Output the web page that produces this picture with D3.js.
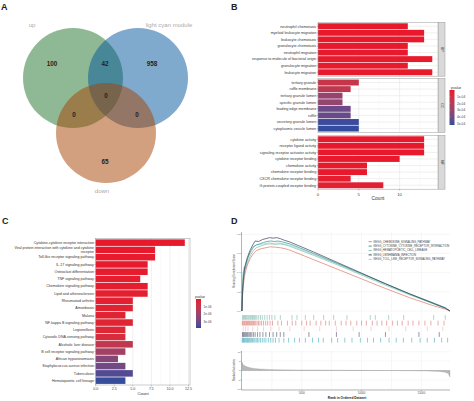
<!DOCTYPE html>
<html><head><meta charset="utf-8">
<script src="https://cdn.jsdelivr.net/npm/d3@7"></script>
<style>body{margin:0;background:#fff}svg{display:block}text{font-family:"Liberation Sans",Arial,Helvetica,sans-serif}</style>
</head><body><svg id="c" width="474" height="401"></svg>
<script>
// ---------------- DATA ----------------
const vennSetNames = ["up", "light cyan module", "down"];
const vennRegionCounts = [100, 42, 958, 0, 0, 0, 65]; // up only, up&cyan, cyan only, all, up&down, cyan&down, down only

const bpTerms = ["neutrophil chemotaxis","myeloid leukocyte migration","leukocyte chemotaxis","granulocyte chemotaxis","neutrophil migration","response to molecule of bacterial origin","granulocyte migration","leukocyte migration"];
const bpCounts = [11,13,13,11,11,14,11,14];
const bpP = [2e-6,1e-6,1e-6,3e-6,3e-6,5e-6,4e-6,2e-6];
const ccTerms = ["tertiary granule","ruffle membrane","tertiary granule lumen","specific granule lumen","leading edge membrane","ruffle","secretory granule lumen","cytoplasmic vesicle lumen"];
const ccCounts = [5,4,3,3,4,4,5,5];
const ccP = [1.2e-4,1.6e-4,2.9e-4,3.0e-4,4.1e-4,4.2e-4,5.0e-4,5.1e-4];
const mfTerms = ["cytokine activity","receptor ligand activity","signaling receptor activator activity","cytokine receptor binding","chemokine activity","chemokine receptor binding","CXCR chemokine receptor binding","G protein-coupled receptor binding"];
const mfCounts = [13,13,13,10,6,6,4,8];
const mfP = [1e-7,1e-7,1e-7,1e-6,2e-6,3e-6,1e-5,2e-5];
const goFacets = ["BP","CC","MF"];
const bLegendTicks = [1e-4,2e-4,3e-4,4e-4,5e-4];

const keggTerms = ["Cytokine-cytokine receptor interaction","Viral protein interaction with cytokine and cytokine|receptor","Toll-like receptor signaling pathway","IL-17 signaling pathway","Osteoclast differentiation","TNF signaling pathway","Chemokine signaling pathway","Lipid and atherosclerosis","Rheumatoid arthritis","Amoebiasis","Malaria","NF-kappa B signaling pathway","Legionellosis","Cytosolic DNA-sensing pathway","Alcoholic liver disease","B cell receptor signaling pathway","African trypanosomiasis","Staphylococcus aureus infection","Tuberculosis","Hematopoietic cell lineage"];
const keggCounts = [12,8,8,7,7,6,7,7,5,5,4,5,4,4,5,4,3,4,5,4];
const keggP = [1e-9,2e-8,3e-8,5e-8,6e-8,8e-8,1e-7,1.2e-7,1.5e-7,2e-7,2.2e-7,2.5e-7,3e-7,5e-7,1.1e-6,1.8e-6,2.5e-6,2.9e-6,3.4e-6,3.7e-6];
const cLegendTicks = [1e-6,2e-6,3e-6];
const keggTicks = [0,2.5,5,7.5,10,12.5];

const gseaNames = ["KEGG_CHEMOKINE_SIGNALING_PATHWAY","KEGG_CYTOKINE_CYTOKINE_RECEPTOR_INTERACTION","KEGG_HEMATOPOIETIC_CELL_LINEAGE","KEGG_LEISHMANIA_INFECTION","KEGG_TOLL_LIKE_RECEPTOR_SIGNALING_PATHWAY"];
const esChemokine = [[0,0],[40,0.15],[120,0.28],[250,0.39],[450,0.48],[700,0.55],[950,0.6],[1200,0.63],[1600,0.65],[2000,0.66],[2400,0.67],[2800,0.665],[3200,0.66],[3600,0.65],[4000,0.635],[6000,0.535],[8000,0.435],[10000,0.335],[12000,0.235],[14000,0.14],[16000,0.055],[17000,0.02],[17400,0]];
const esCytokine = [[0,0],[40,0.17],[120,0.32],[250,0.44],[450,0.54],[700,0.62],[950,0.67],[1200,0.69],[1500,0.7],[1800,0.715],[2100,0.725],[2400,0.73],[2700,0.725],[3000,0.73],[3400,0.72],[4000,0.7],[6000,0.6],[8000,0.495],[10000,0.39],[12000,0.285],[14000,0.18],[16000,0.085],[17000,0.035],[17400,0]];
const esHematopoietic = [[0,0],[40,0.22],[100,0.38],[180,0.46],[300,0.44],[450,0.5],[700,0.58],[950,0.63],[1200,0.66],[1600,0.68],[2000,0.695],[2400,0.7],[2800,0.695],[3200,0.7],[3600,0.69],[4000,0.675],[6000,0.58],[8000,0.48],[10000,0.375],[12000,0.27],[14000,0.17],[16000,0.075],[17000,0.03],[17400,0]];
const esLeishmania = [[0,0],[40,0.2],[120,0.36],[250,0.47],[450,0.56],[700,0.64],[950,0.7],[1100,0.73],[1400,0.725],[1700,0.745],[2000,0.755],[2300,0.765],[2600,0.76],[2900,0.765],[3200,0.755],[3500,0.74],[4000,0.72],[6000,0.615],[8000,0.505],[10000,0.395],[12000,0.285],[14000,0.18],[16000,0.08],[17000,0.03],[17400,0]];
const esToll = [[0,0],[40,0.24],[100,0.4],[200,0.45],[350,0.5],[550,0.57],[800,0.63],[1050,0.68],[1400,0.695],[1800,0.7],[2200,0.71],[2600,0.705],[3000,0.71],[3500,0.7],[4000,0.685],[6000,0.59],[8000,0.49],[10000,0.385],[12000,0.28],[14000,0.175],[16000,0.08],[17000,0.03],[17400,0]];
const hitsHematopoietic = [50,120,200,280,350,430,520,600,700,780,880,950,1050,1150,1250,1400,1550,1700,1900,2100,2300,2500,2750,3205,4180,4600,5300,6000,6830,7670,8780,10730,11150,12270,13525,16035,17000];
const hitsChemokine = [30,90,160,230,310,380,460,540,620,700,790,870,960,1050,1150,1260,1380,1500,1640,1800,1980,2150,2350,2550,3000,3300,3800,4200,4500,5000,5400,5700,6200,6600,7000,7300,7800,8300,8700,9100,9600,10000,10400,10900,11300,11700,12100,12600,13000,13400,13900,14300,14800,15300,15800,16400,16900];
const hitsToll = [100,300,500,900,1300,1800,2400,3100,4000,5200,6500,7900,9300,10800,12300,13700,15500,16800];
const hitsLeishmania = [40,110,180,260,340,420,500,600,700,820,950,1100,1300,1500,1750,2000,2300,2600,2900,3200,3500,5600,7900,9800,12000,14800,16500];
const hitsCytokine = [20,70,130,190,250,320,390,460,540,620,700,790,880,980,1080,1190,1300,1420,1550,1700,1850,2000,2200,2400,2600,2800,3100,3500,3900,4400,4800,5300,5900,6400,6800,7500,8000,8600,9200,9900,10500,11000,11600,12300,12900,13500,14200,14900,15500,16100,16700,17200];
const rankMetric = [[0,4.5],[50,3.6],[150,2.8],[300,2.2],[600,1.6],[1000,1.1],[1500,0.8],[2200,0.55],[3000,0.42],[4500,0.3],[6000,0.22],[8000,0.14],[10000,0.07],[12000,0.0],[14000,-0.1],[15500,-0.25],[16500,-0.5],[17000,-0.9],[17250,-1.6],[17400,-3.5]];
const rankTicks = [5000,10000,15000];
const esTicks = [0,0.2,0.4,0.6,0.8];
const metricTicks = [-10,-5,0,5,10];

// ---------------- DRAW ----------------
const svg = d3.select("#c");
const txt = (g,x,y,s,size,opt={}) => g.append("text").attr("x",x).attr("y",y).text(s)
  .attr("font-size",size).attr("fill",opt.fill||"#333").attr("text-anchor",opt.anchor||"start")
  .attr("font-weight",opt.weight||"normal");

// panel letters
[["A",1,10],["B",231,10],["C",2,224],["D",231,224]].forEach(d=>txt(svg,d[1],d[2],d[0],9,{fill:"#222",weight:"bold"}));

// ---- Panel A: Venn ----
const venn = svg.append("g");
const vr = 50;
const vc = [{x:73,y:78,c:"#1F7329"},{x:138,y:78,c:"#01559B"},{x:106,y:133,c:"#A54100"}];
venn.selectAll("circle").data(vc).join("circle").attr("cx",d=>d.x).attr("cy",d=>d.y).attr("r",vr)
  .attr("fill",d=>d.c).attr("fill-opacity",0.5);
const setLabelPos = [[32,27,"middle"],[169,27,"middle"],[102,193,"middle"]];
vennSetNames.forEach((n,i)=>txt(venn,setLabelPos[i][0],setLabelPos[i][1],n,6,{fill:"#aaa",anchor:"middle"}));
const regionPos = [[52,66],[105,66],[152,66],[106,98],[74,117],[137,117],[105,164]];
vennRegionCounts.forEach((v,i)=>txt(venn,regionPos[i][0],regionPos[i][1],v,6.3,{fill:"#222",anchor:"middle",weight:"bold"}));

// ---- Panel B: GO bars ----
const bX = d3.scaleLinear().domain([0,14.7]).range([318,438]);
const bCol = d3.scaleLinear().domain([0,5.2e-4]).range(["#E8192C","#2B4C9F"]).interpolate(d3.interpolateLab);
const facets = [[bpTerms,bpCounts,bpP],[ccTerms,ccCounts,ccP],[mfTerms,mfCounts,mfP]];
const facetTops = [22.3,78.6,135.3];
const facetH = 53.9;
const gB = svg.append("g");
facets.forEach((f,fi)=>{
  const y = d3.scaleBand().domain(f[0]).range([facetTops[fi],facetTops[fi]+facetH]).paddingInner(0.1).paddingOuter(0.15);
  const g = gB.append("g");
  g.append("rect").attr("x",bX(0)).attr("y",facetTops[fi]).attr("width",bX.range()[1]-bX(0)).attr("height",facetH).attr("fill","#fff");
  [2.5,7.5,12.5].forEach(t=>g.append("line").attr("x1",bX(t)).attr("x2",bX(t)).attr("y1",facetTops[fi]).attr("y2",facetTops[fi]+facetH).attr("stroke","#f2f2f2").attr("stroke-width",0.4));
  [0,5,10].forEach(t=>g.append("line").attr("x1",bX(t)).attr("x2",bX(t)).attr("y1",facetTops[fi]).attr("y2",facetTops[fi]+facetH).attr("stroke","#e6e6e6").attr("stroke-width",0.6));
  f[0].forEach(t=>g.append("line").attr("x1",bX(0)).attr("x2",bX.range()[1]).attr("y1",y(t)+y.bandwidth()/2).attr("y2",y(t)+y.bandwidth()/2).attr("stroke","#e6e6e6").attr("stroke-width",0.6));
  g.selectAll("rect.bar").data(f[0]).join("rect").attr("class","bar")
    .attr("x",bX(0)).attr("y",d=>y(d)).attr("height",y.bandwidth())
    .attr("width",(d,i)=>bX(f[1][i])-bX(0)).attr("fill",(d,i)=>bCol(f[2][i]));
  g.append("rect").attr("x",bX(0)).attr("y",facetTops[fi]).attr("width",bX.range()[1]-bX(0)).attr("height",facetH).attr("fill","none").attr("stroke","#9a9a9a").attr("stroke-width",0.5);
  // strip
  g.append("rect").attr("x",438.6).attr("y",facetTops[fi]).attr("width",6.4).attr("height",facetH).attr("fill","#d9d9d9").attr("stroke","#9a9a9a").attr("stroke-width",0.5);
  const sx=441.8, sy=facetTops[fi]+facetH/2;
  g.append("text").attr("transform",`translate(${sx},${sy}) rotate(90)`).attr("text-anchor","middle").attr("dy","0.35em").attr("font-size",3.5).attr("fill","#333").text(goFacets[fi]);
  // labels
  f[0].forEach(t=>{
    const yy=y(t)+y.bandwidth()/2;
    g.append("line").attr("x1",bX(0)-1.2).attr("x2",bX(0)).attr("y1",yy).attr("y2",yy).attr("stroke","#555").attr("stroke-width",0.3);
    g.append("text").attr("x",bX(0)-1.8).attr("y",yy).attr("dy","0.35em").attr("text-anchor","end").attr("font-size",3.7).attr("fill","#333").text(t);
  });
});
[0,5,10].forEach(t=>{
  gB.append("line").attr("x1",bX(t)).attr("x2",bX(t)).attr("y1",189.2).attr("y2",190.6).attr("stroke","#555").attr("stroke-width",0.3);
  txt(gB,bX(t),195.6,t,4.3,{anchor:"middle",fill:"#444"});
});
txt(gB,378,200.3,"Count",4.8,{anchor:"middle",fill:"#333"});
// B legend
const bLeg = d3.scaleLinear().domain([0,5.2e-4]).range([90,125]);
const defs = svg.append("defs");
function grad(id,scale,dom){
  const lg = defs.append("linearGradient").attr("id",id).attr("x1",0).attr("x2",0).attr("y1",0).attr("y2",1);
  d3.range(0,1.0001,0.1).forEach(o=>lg.append("stop").attr("offset",o).attr("stop-color",scale(dom[0]+o*(dom[1]-dom[0]))));
}
grad("gB",bCol,bLeg.domain());
txt(gB,451,88.6,"pvalue",3.5,{fill:"#333"});
gB.append("rect").attr("x",449.5).attr("y",90).attr("width",5).attr("height",35).attr("fill","url(#gB)");
bLegendTicks.forEach(t=>{
  gB.append("line").attr("x1",449.5).attr("x2",450.5).attr("y1",bLeg(t)).attr("y2",bLeg(t)).attr("stroke","#fff").attr("stroke-width",0.3);
  gB.append("text").attr("x",457).attr("y",bLeg(t)).attr("dy","0.35em").attr("font-size",3.2).attr("fill","#444").text(d3.format(".0e")(t).replace("e-4","e-04"));
});

// ---- Panel C: KEGG bars ----
const gC = svg.append("g");
const cX = d3.scaleLinear().domain([0,12.7]).range([95.7,190]);
const cY = d3.scaleBand().domain(keggTerms).range([238.3,385]).paddingInner(0.1).paddingOuter(0.15);
const cCol = d3.scaleLinear().domain([0,3.8e-6]).range(["#E8192C","#2B4C9F"]).interpolate(d3.interpolateLab);
gC.append("rect").attr("x",cX(0)).attr("y",238.3).attr("width",cX.range()[1]-cX(0)).attr("height",146.7).attr("fill","#fff");
[1.25,3.75,6.25,8.75,11.25].forEach(t=>gC.append("line").attr("x1",cX(t)).attr("x2",cX(t)).attr("y1",238.3).attr("y2",385).attr("stroke","#f3f3f3").attr("stroke-width",0.4));
keggTicks.forEach(t=>gC.append("line").attr("x1",cX(t)).attr("x2",cX(t)).attr("y1",238.3).attr("y2",385).attr("stroke","#e6e6e6").attr("stroke-width",0.6));
gC.selectAll("rect.bar").data(keggTerms).join("rect").attr("class","bar")
  .attr("x",cX(0)).attr("y",d=>cY(d)).attr("height",cY.bandwidth())
  .attr("width",(d,i)=>cX(keggCounts[i])-cX(0)).attr("fill",(d,i)=>cCol(keggP[i]));
gC.append("rect").attr("x",cX(0)).attr("y",238.3).attr("width",cX.range()[1]-cX(0)).attr("height",146.7).attr("fill","none").attr("stroke","#9a9a9a").attr("stroke-width",0.5);
keggTerms.forEach(t=>{
  const yy=cY(t)+cY.bandwidth()/2;
  gC.append("line").attr("x1",cX(0)-1.2).attr("x2",cX(0)).attr("y1",yy).attr("y2",yy).attr("stroke","#555").attr("stroke-width",0.3);
  const parts=t.split("|");
  parts.forEach((p,k)=>gC.append("text").attr("x",cX(0)-1.8).attr("y",yy+(k-(parts.length-1)/2)*3.6).attr("dy","0.35em").attr("text-anchor","end").attr("font-size",3.6).attr("fill","#333").text(p));
});
keggTicks.forEach(t=>{
  gC.append("line").attr("x1",cX(t)).attr("x2",cX(t)).attr("y1",385).attr("y2",386.4).attr("stroke","#555").attr("stroke-width",0.3);
  txt(gC,cX(t),389.8,d3.format(".1f")(t),3.6,{anchor:"middle",fill:"#444"});
});
txt(gC,143,395.2,"Count",4.2,{anchor:"middle",fill:"#333"});
const cLeg = d3.scaleLinear().domain([0,3.8e-6]).range([299,328]);
grad("gC",cCol,cLeg.domain());
txt(gC,195,297.5,"pvalue",3.4,{fill:"#333"});
gC.append("rect").attr("x",196).attr("y",299).attr("width",5).attr("height",29).attr("fill","url(#gC)");
cLegendTicks.forEach(t=>{
  gC.append("text").attr("x",203.5).attr("y",cLeg(t)).attr("dy","0.35em").attr("font-size",3.1).attr("fill","#444").text(d3.format(".0e")(t).replace("e-6","e-06"));
});

// ---- Panel D: GSEA ----
const gD = svg.append("g");
const dX = d3.scaleLinear().domain([0,17400]).range([242,450]);
const esY = d3.scaleLinear().domain([0,0.824]).range([311,232]);
const mY = d3.scaleLinear().domain([-10,10]).range([389.3,351.7]);
const gridX = d3.range(2500,17401,2500);
function vgrid(y1,y2){ gridX.forEach(t=>gD.append("line").attr("x1",dX(t)).attr("x2",dX(t)).attr("y1",y1).attr("y2",y2).attr("stroke","#e8e8e8").attr("stroke-width",0.4)); }
vgrid(232,311); vgrid(313,345); vgrid(351,390);
esTicks.forEach(t=>gD.append("line").attr("x1",242).attr("x2",450).attr("y1",esY(t)).attr("y2",esY(t)).attr("stroke","#e8e8e8").attr("stroke-width",0.4));
metricTicks.forEach(t=>gD.append("line").attr("x1",242).attr("x2",450).attr("y1",mY(t)).attr("y2",mY(t)).attr("stroke","#ededed").attr("stroke-width",0.4));
const esCurves = [esChemokine,esCytokine,esHematopoietic,esLeishmania,esToll];
const gCols = ["#E0766C","#2E9595","#7CC2A2","#3A3D58","#93D1DA"];
const drawOrder = [4,2,0,1,3];
const line = d3.line().x(d=>dX(d[0])).y(d=>esY(d[1]));
drawOrder.forEach(i=>gD.append("path").attr("d",line(esCurves[i])).attr("fill","none").attr("stroke",gCols[i]).attr("stroke-width",0.7));
// y axis
gD.append("line").attr("x1",241.5).attr("x2",241.5).attr("y1",232).attr("y2",311).attr("stroke","#444").attr("stroke-width",0.4);
esTicks.forEach(t=>{
  gD.append("line").attr("x1",240.5).attr("x2",241.5).attr("y1",esY(t)).attr("y2",esY(t)).attr("stroke","#444").attr("stroke-width",0.3);
  gD.append("text").attr("x",240.2).attr("y",esY(t)).attr("dy","0.35em").attr("text-anchor","end").attr("font-size",2.3).attr("fill","#555").text(d3.format(".1f")(t));
});
gD.append("text").attr("transform","translate(235,271) rotate(-90)").attr("text-anchor","middle").attr("font-size",2.8).attr("fill","#444").text("Running Enrichment Score");
// legend
gseaNames.forEach((n,i)=>{
  const yy=241.7+i*4.4;
  gD.append("line").attr("x1",368.6).attr("x2",371.8).attr("y1",yy).attr("y2",yy).attr("stroke",gCols[i]).attr("stroke-width",0.9);
  gD.append("text").attr("x",373.4).attr("y",yy).attr("dy","0.35em").attr("font-size",2.75).attr("fill","#444").text(n);
});
// rug
const hitSets = [hitsHematopoietic,hitsChemokine,hitsToll,hitsLeishmania,hitsCytokine];
const hitCols = ["#6FB2A6","#D9665E","#E8B4B2","#3A3D58","#2FA3B5"];
hitSets.forEach((h,r)=>{
  const y0=315+r*5.7;
  gD.selectAll(null).data(h).join("line").attr("x1",d=>dX(d)).attr("x2",d=>dX(d)).attr("y1",y0).attr("y2",y0+4.8)
    .attr("stroke",hitCols[r]).attr("stroke-width",0.55);
});
// ranked metric
const area = d3.area().x(d=>dX(d[0])).y0(mY(0)).y1(d=>mY(d[1]));
gD.append("path").attr("d",area(rankMetric)).attr("fill","#b8b8b8").attr("stroke","#9a9a9a").attr("stroke-width",0.3);
gD.append("line").attr("x1",242).attr("x2",450).attr("y1",mY(0)).attr("y2",mY(0)).attr("stroke","#aaa").attr("stroke-width",0.4);
gD.append("line").attr("x1",241.5).attr("x2",241.5).attr("y1",351).attr("y2",390).attr("stroke","#444").attr("stroke-width",0.4);
gD.append("line").attr("x1",241.5).attr("x2",450).attr("y1",390).attr("y2",390).attr("stroke","#444").attr("stroke-width",0.4);
metricTicks.forEach(t=>{
  gD.append("line").attr("x1",240.5).attr("x2",241.5).attr("y1",mY(t)).attr("y2",mY(t)).attr("stroke","#444").attr("stroke-width",0.3);
  gD.append("text").attr("x",240.2).attr("y",mY(t)).attr("dy","0.35em").attr("text-anchor","end").attr("font-size",2.3).attr("fill","#555").text(t);
});
gD.append("text").attr("transform","translate(235,370) rotate(-90)").attr("text-anchor","middle").attr("font-size",2.8).attr("fill","#444").text("Ranked list metric");
rankTicks.forEach(t=>{
  gD.append("line").attr("x1",dX(t)).attr("x2",dX(t)).attr("y1",390).attr("y2",391).attr("stroke","#444").attr("stroke-width",0.3);
  txt(gD,dX(t),393.8,t,2.8,{anchor:"middle",fill:"#555"});
});
txt(gD,347,398.5,"Rank in Ordered Dataset",3.3,{anchor:"middle",fill:"#222",weight:"bold"});
</script></body></html>
